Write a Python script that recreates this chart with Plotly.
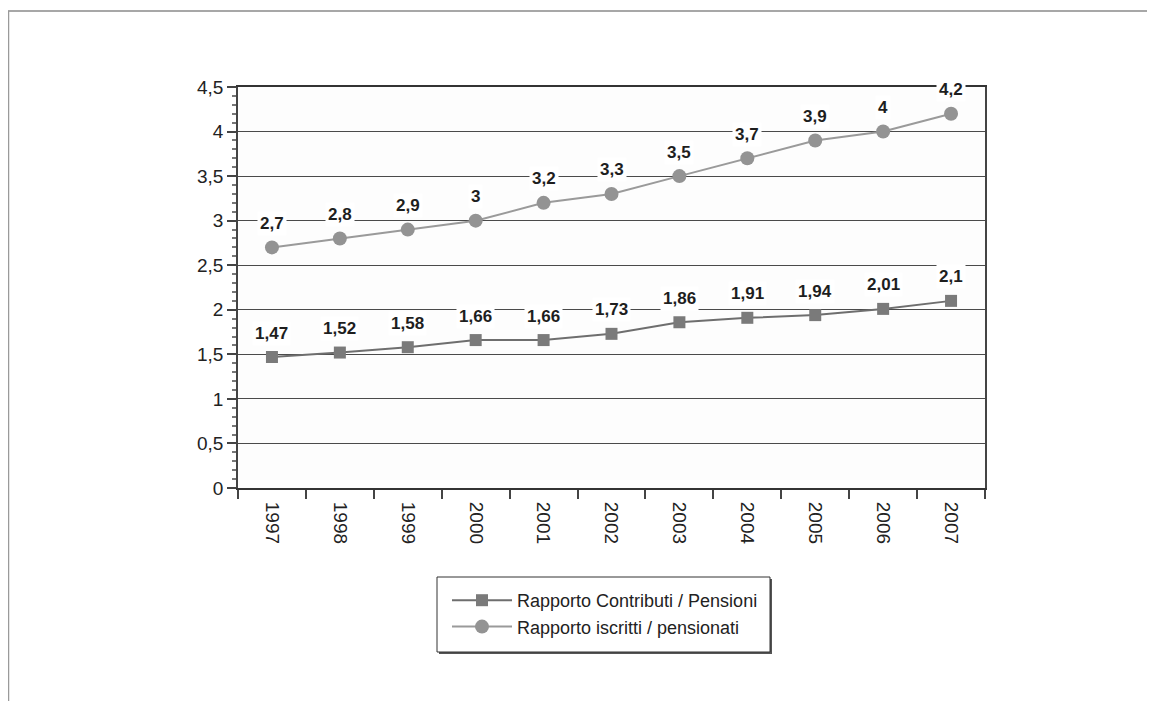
import plotly.graph_objects as go

years = ["1997", "1998", "1999", "2000", "2001", "2002", "2003", "2004", "2005", "2006", "2007"]
contributi_pensioni = [1.47, 1.52, 1.58, 1.66, 1.66, 1.73, 1.86, 1.91, 1.94, 2.01, 2.1]
iscritti_pensionati = [2.7, 2.8, 2.9, 3.0, 3.2, 3.3, 3.5, 3.7, 3.9, 4.0, 4.2]
name_contributi = "Rapporto Contributi / Pensioni"
name_iscritti = "Rapporto iscritti / pensionati"

# the page body adds an 8px offset; figure coords = screen coords - 8
OFF = 8
W, H = 1155 - OFF, 701 - OFF
L, T = 238 - OFF, 87 - OFF
R = W - (985 - OFF)
B = H - (488 - OFF)
PW, PH = W - L - R, H - T - B

def px_x(p):  # screen px -> paper
    return (p - OFF - L) / PW

def px_y(p):
    return (H - B - (p - OFF)) / PH

FONT = "Liberation Sans, Arial, sans-serif"

def fmt(v):
    return ("%g" % v).replace(".", ",")

fig = go.Figure()
fig.add_trace(go.Scatter(
    x=years, y=contributi_pensioni, name=name_contributi, mode="lines+markers",
    line=dict(color="#6e6e6e", width=2),
    marker=dict(symbol="square", size=12, color="#7a7a7a"),
))
fig.add_trace(go.Scatter(
    x=years, y=iscritti_pensionati, name=name_iscritti, mode="lines+markers",
    line=dict(color="#9a9a9a", width=2),
    marker=dict(symbol="circle", size=14, color="#939393"),
))

annotations = []
for series in (contributi_pensioni, iscritti_pensionati):
    for i, v in enumerate(series):
        annotations.append(dict(
            x=i, y=v, xref="x", yref="y", text=fmt(v), showarrow=False, yshift=24,
            yanchor="middle", xanchor="center",
            font=dict(family=FONT, size=17, color="#1e1e1e", weight="bold"),
            bgcolor="white", borderpad=2,
        ))

shapes = [
    # page border (scanned page edges)
    dict(type="line", xref="paper", yref="paper",
         x0=px_x(8), x1=px_x(1170), y0=px_y(11), y1=px_y(11),
         line=dict(color="#8a8a8a", width=1.5)),
    dict(type="line", xref="paper", yref="paper",
         x0=px_x(8.5), x1=px_x(8.5), y0=px_y(11), y1=px_y(720),
         line=dict(color="#9a9a9a", width=1.5)),
    # legend box shadow and frame
    dict(type="rect", xref="paper", yref="paper",
         x0=px_x(439), x1=px_x(772), y0=px_y(579), y1=px_y(654),
         line=dict(width=0), fillcolor="#555555", layer="above"),
    dict(type="rect", xref="paper", yref="paper",
         x0=px_x(437), x1=px_x(770), y0=px_y(577), y1=px_y(652),
         line=dict(color="#333333", width=1), fillcolor="white", layer="above"),
]

fig.update_layout(
    width=W, height=H,
    margin=dict(l=L, r=R, t=T, b=B, pad=0, autoexpand=False),
    paper_bgcolor="white", plot_bgcolor="#fdfdfd",
    separators=", ",
    font=dict(family=FONT, size=17, color="#222222"),
    showlegend=True,
    legend=dict(
        x=px_x(447), y=px_y(582), xanchor="left", yanchor="top",
        bgcolor="rgba(0,0,0,0)", borderwidth=0,
        font=dict(family=FONT, size=18, color="#222222"),
        itemwidth=60, traceorder="normal",
    ),
    annotations=annotations,
    shapes=shapes,
)
fig.update_xaxes(
    type="category", range=[-0.5, len(years) - 0.5], tickangle=90, tickson="boundaries",
    ticks="outside", ticklen=9, tickcolor="#444444", tickwidth=1.5,
    ticklabelstandoff=8,
    showline=True, linecolor="#333333", linewidth=2, mirror=True,
    showgrid=False, tickfont=dict(family=FONT, size=19, color="#222222"),
)
fig.update_yaxes(
    range=[0, 4.5], dtick=0.5, tick0=0,
    ticks="outside", ticklen=9, tickcolor="#444444", tickwidth=1.5,
    showline=True, linecolor="#444444", linewidth=1.5, mirror=True,
    showgrid=True, gridcolor="#4a4a4a", gridwidth=1.2, zeroline=False,
    minor=dict(dtick=0.1, ticks="outside", ticklen=4, tickcolor="#777777", showgrid=False),
    tickfont=dict(family=FONT, size=19, color="#222222"),
)

fig.write_html("out.html")
